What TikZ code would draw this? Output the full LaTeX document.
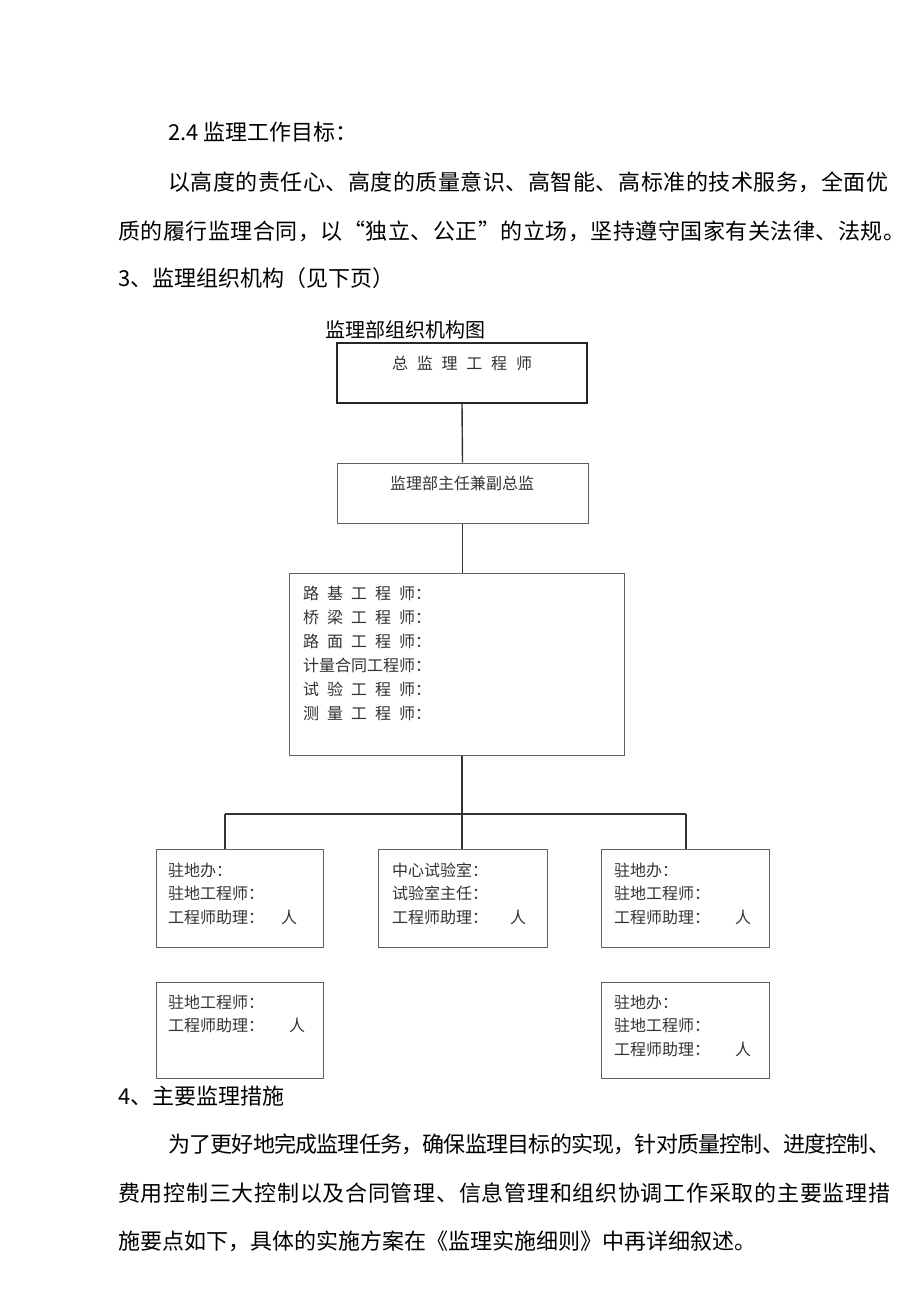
\documentclass[tikz,border=0pt]{standalone}
\usepackage{fontspec}
\setmainfont{Noto Sans CJK SC}
\XeTeXinterchartoks 0 0 = {\hskip 0pt plus 1fil minus 1pt}
\XeTeXinterchartoks 0 1 = {\hskip 0pt plus 1fil minus 1pt}
\XeTeXinterchartoks 0 2 = {\hskip 0pt plus 1fil minus 1pt}
\XeTeXinterchartoks 0 3 = {\hskip 0pt plus 1fil minus 1pt}
\XeTeXinterchartoks 1 0 = {\hskip 0pt plus 1fil minus 1pt}
\XeTeXinterchartoks 1 1 = {\hskip 0pt plus 1fil minus 1pt}
\XeTeXinterchartoks 1 2 = {\hskip 0pt plus 1fil minus 1pt}
\XeTeXinterchartoks 1 3 = {\hskip 0pt plus 1fil minus 1pt}
\XeTeXinterchartoks 2 0 = {\hskip 0pt plus 1fil minus 1pt}
\XeTeXinterchartoks 2 1 = {\hskip 0pt plus 1fil minus 1pt}
\XeTeXinterchartoks 2 2 = {\hskip 0pt plus 1fil minus 1pt}
\XeTeXinterchartoks 2 3 = {\hskip 0pt plus 1fil minus 1pt}
\XeTeXinterchartoks 3 0 = {\hskip 0pt plus 1fil minus 1pt}
\XeTeXinterchartoks 3 1 = {\hskip 0pt plus 1fil minus 1pt}
\XeTeXinterchartoks 3 2 = {\hskip 0pt plus 1fil minus 1pt}
\XeTeXinterchartoks 3 3 = {\hskip 0pt plus 1fil minus 1pt}
\newcommand\jline[2]{{\XeTeXinterchartokenstate=1 \makebox[#1][s]{#2}}}
\begin{document}
\begin{tikzpicture}[x=1pt,y=-1pt,
  body/.style={anchor=west,inner sep=0pt,font=\fontsize{22}{22}\selectfont,text=black},
  boxtxt/.style={anchor=west,inner sep=0pt,font=\fontsize{16}{16}\selectfont,text=black!80},
  orgbox/.style={draw=black!62,line width=1pt,fill=white,inner sep=0pt},
  conn/.style={draw=black!80,line width=1.4pt}]
\useasboundingbox[fill=white] (0,0) rectangle (920,1301);
% text above
\node[body] (p1) at (168,132) {2.4 监理工作目标：};
\node[body] (p2) at (168,182) {\jline{720pt}{以高度的责任心、高度的质量意识、高智能、高标准的技术服务，全面优}};
\node[body] (p3) at (118,231) {\jline{787pt}{质的履行监理合同，以“独立、公正”的立场，坚持遵守国家有关法律、法规。}};
\node[body] (p4) at (118,278) {3、监理组织机构（见下页）};
\node[anchor=west,inner sep=0pt,font=\fontsize{20}{20}\selectfont] (title) at (325,330) {监理部组织机构图};
% boxes
\node[orgbox,draw=black!85,line width=1.5pt,minimum width=250pt,minimum height=60pt] (t) at (462,373) {};
\node[orgbox,minimum width=251pt,minimum height=60pt] (d) at (462.5,493) {};
\node[orgbox,minimum width=335pt,minimum height=182pt] (m) at (456.5,664) {};
\node[orgbox,minimum width=167pt,minimum height=98pt] (b1) at (239.5,898) {};
\node[orgbox,minimum width=169pt,minimum height=98pt] (b2) at (462.5,898) {};
\node[orgbox,minimum width=168pt,minimum height=98pt] (b3) at (685,898) {};
\node[orgbox,minimum width=167pt,minimum height=96pt] (b4) at (239.5,1030) {};
\node[orgbox,minimum width=168pt,minimum height=96pt] (b5) at (685,1030) {};
% connectors
\coordinate (jc) at (462,814);
\coordinate (jl) at (225,814);
\coordinate (jr) at (686,814);
\draw[conn] (t.south) -- (d.north);
\draw[conn] (d.south) -- (d.south |- m.north);
\draw[conn] (m.south -| jc) -- (jc);
\draw[conn] (jl) -- (jr);
\draw[conn] (jl) -- (jl |- b1.north);
\draw[conn] (jc) -- (jc |- b2.north);
\draw[conn] (jr) -- (jr |- b3.north);
% box texts
\node[boxtxt,anchor=center] (tt) at (462,363) {\makebox[140pt][s]{总\hfill 监\hfill 理\hfill 工\hfill 程\hfill 师}};
\node[boxtxt,anchor=center] (dt) at (462,483) {监理部主任兼副总监};
\node[boxtxt] (m1) at (303,593) {\makebox[7em][s]{路\hfill 基\hfill 工\hfill 程\hfill 师}：};
\node[boxtxt] (m2) at (303,617) {\makebox[7em][s]{桥\hfill 梁\hfill 工\hfill 程\hfill 师}：};
\node[boxtxt] (m3) at (303,641) {\makebox[7em][s]{路\hfill 面\hfill 工\hfill 程\hfill 师}：};
\node[boxtxt] (m4) at (303,665) {计量合同工程师：};
\node[boxtxt] (m5) at (303,689) {\makebox[7em][s]{试\hfill 验\hfill 工\hfill 程\hfill 师}：};
\node[boxtxt] (m6) at (303,713) {\makebox[7em][s]{测\hfill 量\hfill 工\hfill 程\hfill 师}：};
% b1
\node[boxtxt] (b1a) at (168,870) {驻地办：};
\node[boxtxt] (b1b) at (168,893) {驻地工程师：};
\node[boxtxt] (b1c) at (168,917) {工程师助理：};
\node[boxtxt,anchor=center] (b1d) at (289,917) {人};
% b2
\node[boxtxt] (b2a) at (392,870) {中心试验室：};
\node[boxtxt] (b2b) at (392,893) {试验室主任：};
\node[boxtxt] (b2c) at (392,917) {工程师助理：};
\node[boxtxt,anchor=center] (b2d) at (518,917) {人};
% b3
\node[boxtxt] (b3a) at (614,870) {驻地办：};
\node[boxtxt] (b3b) at (614,893) {驻地工程师：};
\node[boxtxt] (b3c) at (614,917) {工程师助理：};
\node[boxtxt,anchor=center] (b3d) at (743,917) {人};
% b4
\node[boxtxt] (b4a) at (168,1002) {驻地工程师：};
\node[boxtxt] (b4b) at (168,1025) {工程师助理：};
\node[boxtxt,anchor=center] (b4c) at (297,1025) {人};
% b5
\node[boxtxt] (b5a) at (614,1002) {驻地办：};
\node[boxtxt] (b5b) at (614,1025) {驻地工程师：};
\node[boxtxt] (b5c) at (614,1049) {工程师助理：};
\node[boxtxt,anchor=center] (b5d) at (743,1049) {人};
% text below
\node[body] (q1) at (118,1096) {4、主要监理措施};
\node[body] (q2) at (168,1144) {\jline{722pt}{为了更好地完成监理任务，确保监理目标的实现，针对质量控制、进度控制、}};
\node[body] (q3) at (118,1193) {\jline{772pt}{费用控制三大控制以及合同管理、信息管理和组织协调工作采取的主要监理措}};
\node[body] (q4) at (118,1241) {施要点如下，具体的实施方案在《监理实施细则》中再详细叙述。};
\end{tikzpicture}
\end{document}
